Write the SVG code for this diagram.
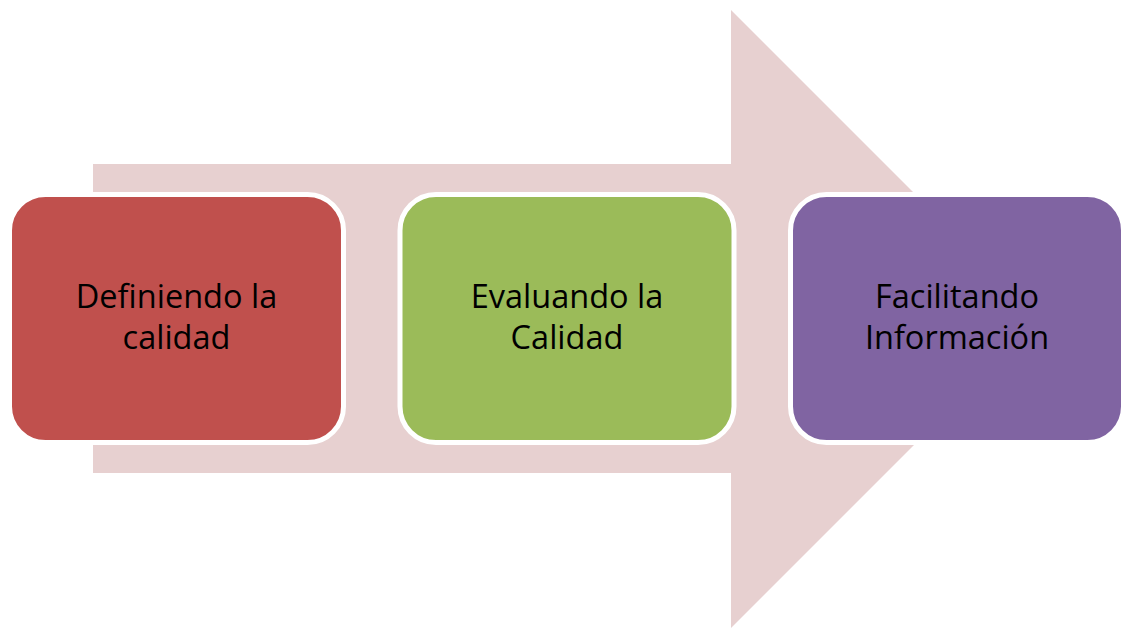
<svg xmlns="http://www.w3.org/2000/svg" width="1122" height="628" viewBox="0 0 1122 628">
<style>
.box{stroke:#FFFFFF;stroke-width:5}
.lbl{font-family:"Open Sans","Liberation Sans",Arial,sans-serif;font-size:32.5px;fill:#000000;text-anchor:middle}
</style>
<rect x="0" y="0" width="1122" height="628" fill="#FFFFFF"/>
<g id="connectors">
<polygon points="93,164 731,164 731,10 1040,319 731,628 731,473 93,473" fill="#E7D0D0"/>
</g>
<g id="node1">
<rect class="box" x="9.5" y="194.5" width="334" height="248" rx="36" ry="36" fill="#C0504D"/>
<text class="lbl" x="176.5" y="308">Definiendo la</text>
<text class="lbl" x="176.5" y="349">calidad</text>
</g>
<g id="node2">
<rect class="box" x="400" y="194.5" width="334" height="248" rx="36" ry="36" fill="#9BBB59"/>
<text class="lbl" x="567" y="308">Evaluando la</text>
<text class="lbl" x="567" y="349">Calidad</text>
</g>
<g id="node3">
<rect class="box" x="790.5" y="194.5" width="333" height="248" rx="36" ry="36" fill="#8064A2"/>
<text class="lbl" x="957" y="308">Facilitando</text>
<text class="lbl" x="957" y="349">Información</text>
</g>
</svg>
